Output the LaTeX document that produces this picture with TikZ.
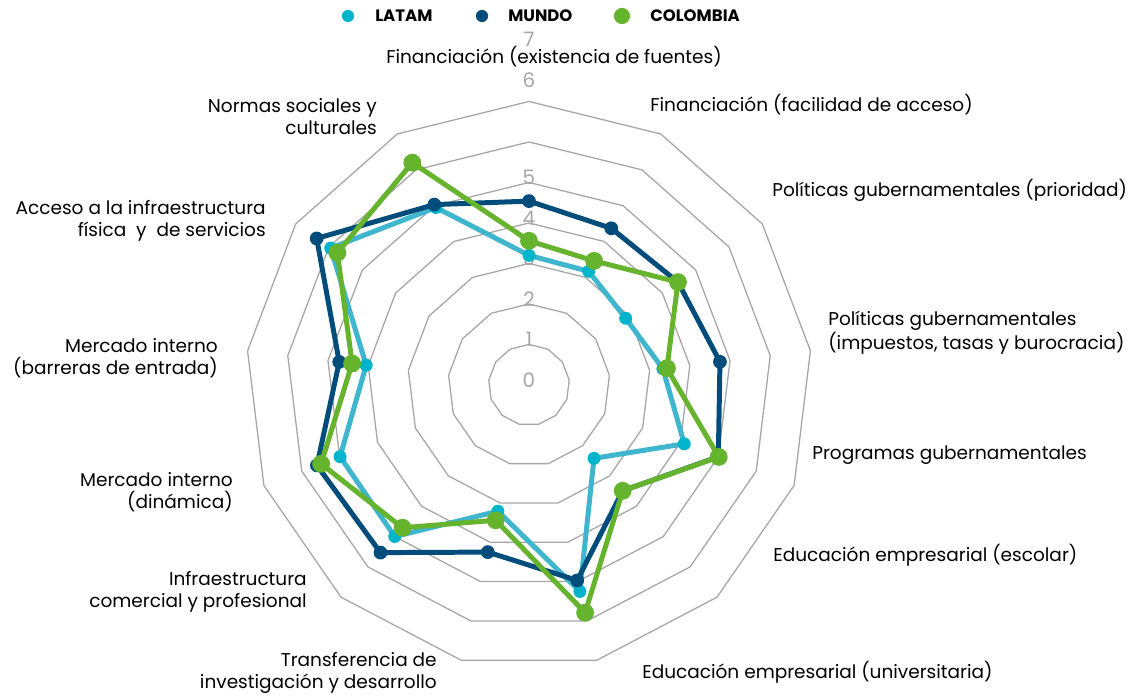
\documentclass[tikz,border=0pt]{standalone}
\usepackage{fontspec}
\setmainfont{Poppins}
\definecolor{latam}{HTML}{3FB6CD}
\definecolor{latamdot}{HTML}{00B4CB}
\definecolor{mundo}{HTML}{004C7A}
\definecolor{colombia}{HTML}{66B32E}
\definecolor{rejilla}{HTML}{A6A6A6}
\newcommand{\latamvals}{3.2,3.17,2.9,3.33,4.1,2.42,5.25,3.21,5.0,4.99,4.05,5.95,4.95}
\newcommand{\mundovals}{4.54,4.37,4.47,4.75,5.0,3.49,4.97,4.25,5.53,5.6,4.72,6.37,5.03}
\newcommand{\colombiavals}{3.56,3.46,4.47,3.43,5.01,3.49,5.79,3.44,4.71,5.49,4.4,5.75,6.2}

\begin{document}
\begin{tikzpicture}[
    gridline/.style={draw=rejilla,line width=0.9pt},
    serie/.style={line width=3.5pt,line join=round},
    tick/.style={text=rejilla,font=\fontsize{14}{15}\selectfont,inner sep=0.5pt},
    cat/.style={font=\fontsize{13}{15.4}\selectfont,inner sep=0pt},
    leyenda/.style={font=\fontsize{11.6}{13}\selectfont\bfseries,anchor=west,inner sep=0pt}]
        \useasboundingbox (-13.062,-7.679) rectangle (14.963,9.506);

        \foreach \r in {1,...,7}
            \draw[gridline] (90:\r) \foreach \k in {1,...,12}{-- ({90-\k*360/13}:\r)} -- cycle;

        \foreach \k in {0,...,5}
            \node[tick,anchor=south] (t\k) at (0,\k-0.08) {\k};
        \node[tick] (t6) at (0,7.53) {6};
        \node[tick] (t7) at (0,8.54) {7};

        \foreach \v [count=\i from 0] in \latamvals
            \coordinate (la\i) at ({90-\i*360/13}:\v);
        \foreach \v [count=\i from 0] in \mundovals
            \coordinate (mu\i) at ({90-\i*360/13}:\v);
        \foreach \v [count=\i from 0] in \colombiavals
            \coordinate (co\i) at ({90-\i*360/13}:\v);

        \draw[serie,latam] (la0) \foreach \i in {1,...,12}{-- (la\i)} -- cycle;
        \foreach \i in {0,...,12}
            \fill[latamdot] (la\i) circle (0.16);
        \draw[serie,mundo] (mu0) \foreach \i in {1,...,12}{-- (mu\i)} -- cycle;
        \foreach \i in {0,...,12}
            \fill[mundo] (mu\i) circle (0.17);
        \draw[serie,colombia] (co0) \foreach \i in {1,...,12}{-- (co\i)} -- cycle;
        \foreach \i in {0,...,12}
            \fill[colombia] (co\i) circle (0.22);

        \node[cat] (c0) at (0.617,8.099) {Financiación (existencia de fuentes)};
        \node[cat,anchor=west] (c1) at (2.988,6.914) {Financiación (facilidad de acceso)};
        \node[cat,anchor=west] (c2) at (6.0,4.815) {Políticas gubernamentales (prioridad)};
        \node[cat,anchor=west,align=left] (c3) at (7.383,1.284) {Políticas gubernamentales\\(impuestos, tasas y burocracia)};
        \node[cat,anchor=west] (c4) at (6.988,-1.728) {Programas gubernamentales};
        \node[cat,anchor=west] (c5) at (6.025,-4.198) {Educación empresarial (escolar)};
        \node[cat,anchor=west] (c6) at (2.790,-7.086) {Educación empresarial (universitaria)};
        \node[cat,anchor=east,align=right] (c7) at (-2.272,-7.111) {Transferencia de\\investigación y desarrollo};
        \node[cat,anchor=east,align=right] (c8) at (-5.481,-5.111) {Infraestructura\\comercial y profesional};
        \node[cat,anchor=east,align=right] (c9) at (-7.309,-2.642) {Mercado interno\\(dinámica)};
        \node[cat,anchor=east,align=right] (c10) at (-7.679,0.667) {Mercado interno\\(barreras de entrada)};
        \node[cat,anchor=east,align=right] (c11) at (-6.494,4.049) {Acceso a la infraestructura\\física\ \ y\ \ de servicios};
        \node[cat,anchor=east,align=right] (c12) at (-3.753,6.617) {Normas sociales y\\culturales};

        \fill[latamdot] (-4.469,9.111) circle (0.15);
        \node[leyenda] (l1) at (-3.802,9.111) {LATAM};
        \fill[mundo] (-1.160,9.111) circle (0.15);
        \node[leyenda] (l2) at (-0.519,9.111) {MUNDO};
        \fill[colombia] (2.296,9.111) circle (0.2);
        \node[leyenda] (l3) at (2.988,9.111) {COLOMBIA};
    \end{tikzpicture}
\end{document}
